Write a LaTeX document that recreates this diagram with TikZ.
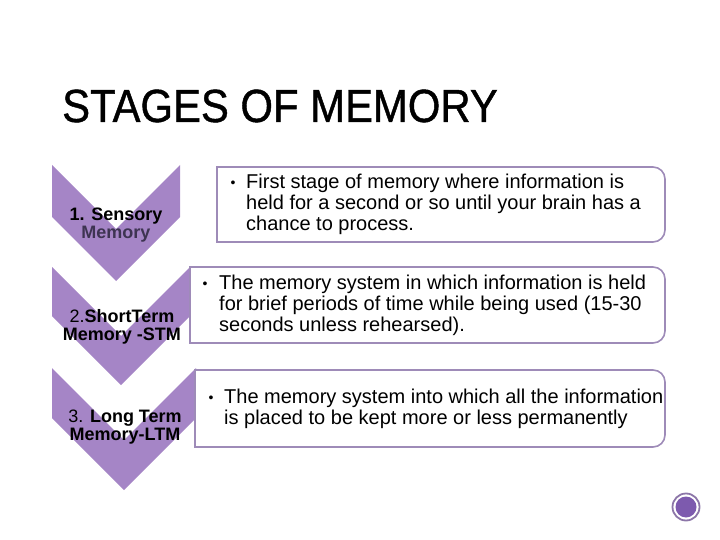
\documentclass[tikz,border=0pt]{standalone}
\usepackage{fontspec}
\setmainfont{Liberation Sans}
\newfontfamily\titlefont[FakeBold=1]{Liberation Sans}
\definecolor{chevpurple}{RGB}{165,133,198}
\definecolor{boxline}{RGB}{158,139,184}
\definecolor{lbldark}{RGB}{62,52,82}
\definecolor{iconring}{RGB}{140,118,168}
\definecolor{iconfill}{RGB}{125,90,174}
\tikzset{
  chev/.style={fill=chevpurple},
  memobox/.style={draw=boxline,line width=1.6pt,fill=white},
  stagelbl/.style={align=center,inner sep=0pt,font=\fontsize{18}{18.5}\selectfont\bfseries},
  bultxt/.style={anchor=base west,align=left,inner sep=0pt,font=\fontsize{20}{21}\selectfont},
  bulmark/.style={inner sep=0pt,font=\fontsize{14}{14}\selectfont}
}
\begin{document}
\begin{tikzpicture}[x=1pt,y=-1pt]
  \useasboundingbox (0,0) rectangle (720,540);
  % title
  \node[anchor=base west,inner sep=0pt,xscale=.9,font=\titlefont\fontsize{46.5}{46.5}\selectfont] (title) at (62,122) {STAGES OF MEMORY};
  % chevrons
  \fill[chev] (52,165)--(116,229)--(180,165)--(180,217)--(116,281)--(52,217)--cycle;
  \fill[chev] (52,267)--(121,336)--(190,267)--(190,316)--(121,385)--(52,316)--cycle;
  \fill[chev] (52,368)--(124,440)--(196,368)--(196,418)--(124,490)--(52,418)--cycle;
  \node[stagelbl] (stage1) at (116,225) {1. Sensory\\\textcolor{lbldark}{Memory}};
  \node[stagelbl] (stage2) at (122,327) {{\mdseries 2.}ShortTerm\\Memory -STM};
  \node[stagelbl] (stage3) at (125,427) {{\mdseries 3.} Long Term\\Memory-LTM};
  % boxes (text nodes sit on the baseline of their last line)
  \draw[memobox] (217,167) [rounded corners=12pt] -- (665,167) -- (665,242) [sharp corners] -- (217,242) -- cycle;
  \draw[memobox] (190,267) [rounded corners=12pt] -- (665,267) -- (665,343) [sharp corners] -- (190,343) -- cycle;
  \draw[memobox] (195,370) [rounded corners=12pt] -- (665,370) -- (665,447) [sharp corners] -- (195,447) -- cycle;
  \node[bulmark] (dot1) at (233,184) {\textbullet};
  \node[bultxt] (desc1) at (246,230.5) {First stage of memory where information is\\held for a second or so until your brain has a\\chance to process.};
  \node[bulmark] (dot2) at (205,285) {\textbullet};
  \node[bultxt] (desc2) at (219,331) {The memory system in which information is held\\for brief periods of time while being used (15-30\\seconds unless rehearsed).};
  \node[bulmark] (dot3) at (211,399) {\textbullet};
  \node[bultxt] (desc3) at (224,424) {The memory system into which all the information\\is placed to be kept more or less permanently};
  % corner icon
  \draw[iconring,line width=1.8pt] (686,507) circle[radius=13.5pt];
  \fill[iconfill] (686,507) circle[radius=10.5pt];
\end{tikzpicture}
\end{document}
